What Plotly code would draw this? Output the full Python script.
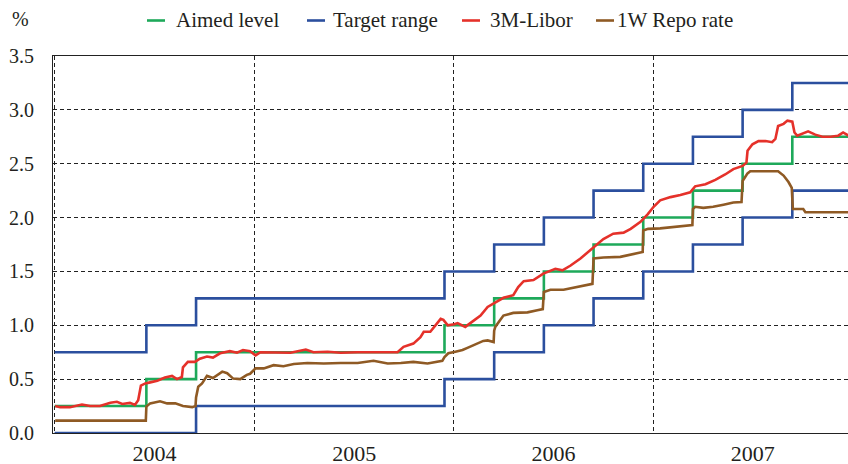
import plotly.graph_objects as go

# ---------------- data ----------------
policy_dates = ["2004-01-01", "2004-06-17", "2004-09-16", "2005-12-15", "2006-03-16",
                "2006-06-15", "2006-09-14", "2006-12-14", "2007-03-15", "2007-06-14",
                "2007-09-13", "2007-12-31"]
target_upper = [0.75, 1.00, 1.25, 1.50, 1.75, 2.00, 2.25, 2.50, 2.75, 3.00, 3.25, 3.25]
target_lower = [0.00, 0.00, 0.25, 0.50, 0.75, 1.00, 1.25, 1.50, 1.75, 2.00, 2.25, 2.25]
aimed_level = [0.25, 0.50, 0.75, 1.00, 1.25, 1.50, 1.75, 2.00, 2.25, 2.50, 2.75, 2.75]

libor_dates = [
    "2004-01-02", "2004-01-11", "2004-01-29", "2004-02-20", "2004-03-06", "2004-03-24",
    "2004-04-12", "2004-04-24", "2004-05-04", "2004-05-18", "2004-05-27", "2004-06-02",
    "2004-06-07", "2004-06-15", "2004-06-24", "2004-07-07", "2004-07-21", "2004-08-03",
    "2004-08-12", "2004-08-21", "2004-08-23", "2004-09-01", "2004-09-14", "2004-09-23",
    "2004-10-06", "2004-10-17", "2004-10-30", "2004-11-17", "2004-11-30", "2004-12-11",
    "2004-12-24",
    "2005-01-03", "2005-01-12", "2005-02-05", "2005-03-08", "2005-04-05", "2005-04-19",
    "2005-05-15", "2005-06-08", "2005-07-09", "2005-08-07", "2005-09-02", "2005-09-20",
    "2005-10-01", "2005-10-19", "2005-11-01", "2005-11-07", "2005-11-19", "2005-12-02",
    "2005-12-08", "2005-12-13", "2005-12-21",
    "2006-01-02", "2006-01-08", "2006-01-22", "2006-02-04", "2006-02-19", "2006-03-04",
    "2006-03-18", "2006-04-02", "2006-04-20", "2006-04-29", "2006-05-09", "2006-05-27",
    "2006-06-14", "2006-07-06", "2006-07-19", "2006-08-03", "2006-08-21", "2006-09-12",
    "2006-09-21", "2006-10-02", "2006-10-20", "2006-11-08", "2006-11-21", "2006-12-09",
    "2006-12-22",
    "2007-01-02", "2007-01-14", "2007-02-02", "2007-02-20", "2007-03-10", "2007-03-19",
    "2007-04-07", "2007-04-25", "2007-05-13", "2007-05-28", "2007-06-14", "2007-06-21",
    "2007-06-23", "2007-07-02", "2007-07-13", "2007-07-26", "2007-08-07", "2007-08-13",
    "2007-08-18", "2007-08-28", "2007-09-04", "2007-09-13", "2007-09-17", "2007-09-22",
    "2007-10-03", "2007-10-12", "2007-10-25", "2007-11-07", "2007-11-22", "2007-12-06",
    "2007-12-15", "2007-12-25"]
libor_3m = [
    0.25, 0.24, 0.24, 0.265, 0.25, 0.25,
    0.28, 0.29, 0.27, 0.28, 0.26, 0.305,
    0.44, 0.46, 0.47, 0.485, 0.515, 0.53,
    0.50, 0.52, 0.61, 0.66, 0.66, 0.69,
    0.71, 0.70, 0.74, 0.76, 0.745, 0.77,
    0.76,
    0.72, 0.75, 0.75, 0.745, 0.775, 0.75,
    0.755, 0.745, 0.75, 0.75, 0.755, 0.75,
    0.80, 0.83, 0.89, 0.94, 0.94, 1.015,
    1.06, 1.05, 1.00,
    1.01, 1.02, 0.985, 1.03, 1.09, 1.17,
    1.215, 1.255, 1.28, 1.355, 1.41, 1.42,
    1.48, 1.525, 1.51, 1.555, 1.62, 1.71,
    1.755, 1.80, 1.85, 1.86, 1.895, 1.96,
    2.03,
    2.10, 2.16, 2.19, 2.21, 2.235, 2.29,
    2.31, 2.35, 2.40, 2.45, 2.48, 2.51,
    2.62, 2.68, 2.71, 2.71, 2.70, 2.73,
    2.85, 2.87, 2.90, 2.89, 2.79, 2.76,
    2.78, 2.80, 2.77, 2.75, 2.75, 2.76,
    2.79, 2.76]

repo_dates = [
    "2004-01-02", "2004-06-16", "2004-06-17", "2004-06-24", "2004-07-12", "2004-07-25",
    "2004-08-09", "2004-08-23", "2004-09-09", "2004-09-15", "2004-09-16", "2004-09-20",
    "2004-09-27", "2004-10-06", "2004-10-17", "2004-11-03", "2004-11-12", "2004-11-23",
    "2004-12-06", "2004-12-18", "2004-12-24",
    "2005-01-03", "2005-01-18", "2005-02-05", "2005-02-23", "2005-03-14", "2005-04-08",
    "2005-05-08", "2005-06-08", "2005-07-09", "2005-08-07", "2005-09-02", "2005-09-26",
    "2005-10-19", "2005-11-14", "2005-11-29", "2005-12-11", "2005-12-15", "2005-12-22",
    "2006-01-04", "2006-01-17", "2006-01-26", "2006-02-06", "2006-02-24", "2006-03-04",
    "2006-03-15", "2006-03-16", "2006-03-18", "2006-03-28", "2006-04-02", "2006-04-20",
    "2006-05-16", "2006-06-03", "2006-06-13", "2006-06-15", "2006-06-27", "2006-07-21",
    "2006-08-08", "2006-08-26", "2006-09-12", "2006-09-14", "2006-10-02", "2006-11-02",
    "2006-11-26", "2006-12-13", "2006-12-14", "2006-12-23",
    "2007-01-14", "2007-02-02", "2007-02-20", "2007-03-14", "2007-03-15", "2007-03-19",
    "2007-04-03", "2007-04-21", "2007-05-10", "2007-05-28", "2007-06-12", "2007-06-14",
    "2007-06-23", "2007-06-28", "2007-07-29", "2007-08-18", "2007-08-28", "2007-09-06",
    "2007-09-12", "2007-09-13", "2007-09-14", "2007-10-03", "2007-10-07", "2007-11-16",
    "2007-12-25"]
repo_1w = [
    0.115, 0.115, 0.245, 0.275, 0.295, 0.275,
    0.275, 0.25, 0.24, 0.25, 0.33, 0.43,
    0.46, 0.53, 0.51, 0.57, 0.555, 0.505,
    0.50, 0.54, 0.55,
    0.60, 0.60, 0.63, 0.62, 0.64, 0.65,
    0.645, 0.65, 0.65, 0.67, 0.645, 0.65,
    0.66, 0.645, 0.66, 0.67, 0.705, 0.74,
    0.755, 0.77, 0.79, 0.815, 0.855, 0.86,
    0.845, 0.95, 0.985, 1.055, 1.09, 1.115,
    1.12, 1.14, 1.15, 1.31, 1.33, 1.33,
    1.35, 1.37, 1.385, 1.62, 1.63, 1.635,
    1.665, 1.68, 1.88, 1.895,
    1.90, 1.91, 1.925, 1.93, 2.08, 2.10,
    2.09, 2.10, 2.12, 2.14, 2.145, 2.34,
    2.41, 2.43, 2.43, 2.43, 2.39, 2.33,
    2.275, 2.19, 2.08, 2.08, 2.05, 2.05,
    2.05]

y_ticks = [0.0, 0.5, 1.0, 1.5, 2.0, 2.5, 3.0, 3.5]

legend_items = ["Aimed level", "Target range", "3M-Libor", "1W Repo rate"]

# ---------------- style ----------------
GREEN = "#1ea95a"
BLUE = "#2b4f9e"
RED = "#e5312a"
BROWN = "#8f5a24"
TEXT = "#231f20"
FONT = "Liberation Serif, Times New Roman, serif"
LW = 2.6

W, H = 848, 464
ML, MR, MT, MB = 53, 0, 56, 31

fig = go.Figure()
fig.add_trace(go.Scatter(x=policy_dates, y=target_upper, mode="lines", line_shape="hv",
                         line=dict(color=BLUE, width=LW), name="Target range",
                         legendgroup="tr", showlegend=False))
fig.add_trace(go.Scatter(x=policy_dates, y=target_lower, mode="lines", line_shape="hv",
                         line=dict(color=BLUE, width=LW), name="Target range",
                         legendgroup="tr", showlegend=False))
fig.add_trace(go.Scatter(x=policy_dates, y=aimed_level, mode="lines", line_shape="hv",
                         line=dict(color=GREEN, width=LW), name="Aimed level",
                         showlegend=False))
fig.add_trace(go.Scatter(x=repo_dates, y=repo_1w, mode="lines",
                         line=dict(color=BROWN, width=LW), name="1W Repo rate",
                         showlegend=False))
fig.add_trace(go.Scatter(x=libor_dates, y=libor_3m, mode="lines",
                         line=dict(color=RED, width=LW), name="3M-Libor",
                         showlegend=False))

# custom legend (short line samples + text), positioned in paper coords
pw = W - ML - MR
ph = H - MT - MB
def px_x(p):
    return (p - ML) / pw
def px_y(p):
    return (H - MB - p) / ph

legend_colors = [GREEN, BLUE, RED, BROWN]
legend_line_x = [147, 307, 462, 596]
legend_text_x = [174, 331, 488, 615]
shapes = []
annotations = []
for name, col, lx, tx in zip(legend_items, legend_colors, legend_line_x, legend_text_x):
    shapes.append(dict(type="line", xref="paper", yref="paper",
                       x0=px_x(lx), x1=px_x(lx + 18), y0=px_y(20.5), y1=px_y(20.5),
                       line=dict(color=col, width=2.6)))
    annotations.append(dict(text=name, xref="paper", yref="paper", x=px_x(tx), y=px_y(20),
                            xanchor="left", yanchor="middle", showarrow=False,
                            font=dict(family=FONT, size=21, color=TEXT)))
annotations.append(dict(text="%", xref="paper", yref="paper", x=px_x(20), y=px_y(19),
                        xanchor="center", yanchor="middle", showarrow=False,
                        font=dict(family=FONT, size=20, color=TEXT)))

fig.update_layout(
    width=W, height=H,
    margin=dict(l=ML, r=MR, t=MT, b=MB, autoexpand=False),
    paper_bgcolor="white", plot_bgcolor="white",
    font=dict(family=FONT, color=TEXT),
    showlegend=False,
    shapes=shapes, annotations=annotations,
)
fig.update_xaxes(
    type="date", range=["2003-12-29", "2007-12-24"],
    tick0="2004-01-01", dtick="M12", tickformat="%Y", ticklabelmode="period",
    ticks="", showgrid=True, gridcolor="#222", gridwidth=1, griddash="4px,3px",
    showline=True, linecolor="#222", linewidth=1.2, mirror=True,
    tickfont=dict(family=FONT, size=22, color=TEXT),
    layer="below traces", zeroline=False, automargin=False,
)
fig.update_yaxes(
    range=[0, 3.5], tickvals=y_ticks, tickformat=".1f",
    ticks="", showgrid=True, gridcolor="#222", gridwidth=1, griddash="4px,3px",
    showline=True, linecolor="#222", linewidth=1.2,
    tickfont=dict(family=FONT, size=20, color=TEXT),
    ticklabelstandoff=14, zeroline=False, layer="below traces", automargin=False,
)

fig.write_html("out.html",
               config={"displayModeBar": False},
               post_script="document.body.style.margin='0';document.body.style.padding='0';"
                           "document.documentElement.style.overflow='hidden';")
